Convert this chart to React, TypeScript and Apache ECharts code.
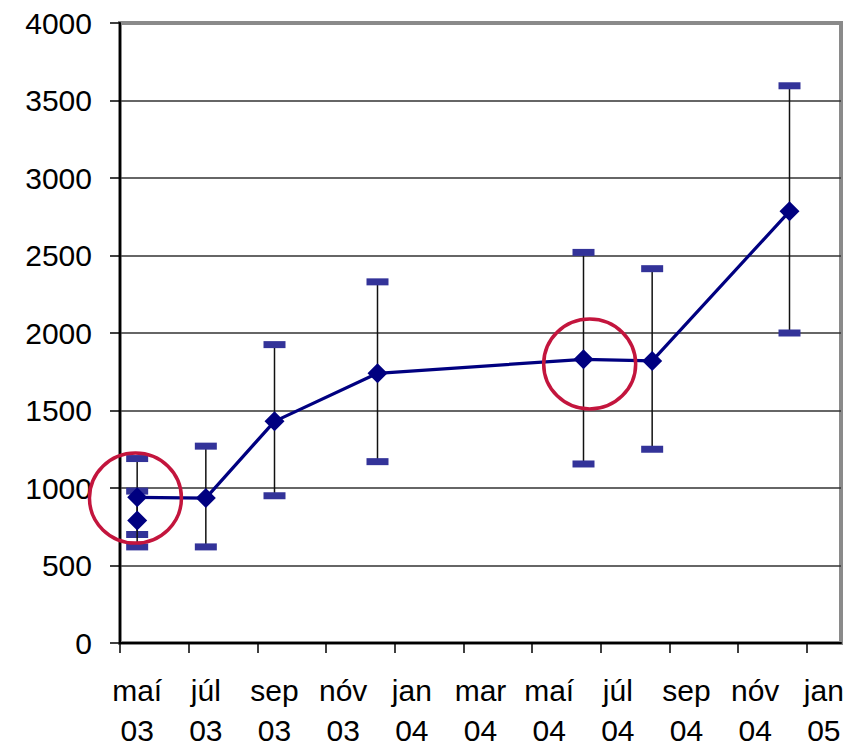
import React, { useEffect, useRef } from "react";
import * as echarts from "echarts";

// Month labels of the date axis (each label spans two months)
const monthLabels = ["maí", "júl", "sep", "nóv", "jan", "mar", "maí", "júl", "sep", "nóv", "jan"];
const yearLabels = ["03", "03", "03", "03", "04", "04", "04", "04", "04", "04", "05"];

// Month index from maí 03 (0) for each measurement
const monthIndex = [0, 2, 4, 7, 13, 15, 19];
const values = [940, 935, 1430, 1740, 1830, 1820, 2785];
const lows = [700, 620, 950, 1170, 1155, 1250, 2000];
const highs = [1190, 1270, 1925, 2330, 2520, 2415, 3595];

// Extra single measurement at maí 03
const extraMonth = [0];
const extraValue = [790];
const extraLow = [620];
const extraHigh = [980];

// Annotation circles (month position, value)
const circleMonth = [0.45, 13.68];
const circleValue = [935, 1800];

const yTicks = [0, 500, 1000, 1500, 2000, 2500, 3000, 3500, 4000];

const FONT = "'Liberation Sans', Arial, sans-serif";

export default function App() {
  const ref = useRef<HTMLDivElement>(null);

  useEffect(() => {
    if (!ref.current) return;
    const chart = echarts.init(ref.current, null, { renderer: "svg" });

    const lineData = monthIndex.map((m, i) => [m + 0.5, values[i]]);
    const extraData = extraMonth.map((m, i) => [m + 0.5, extraValue[i]]);
    const errData = [
      ...monthIndex.map((m, i) => [m + 0.5, lows[i], highs[i]]),
      ...extraMonth.map((m, i) => [m + 0.5, extraLow[i], extraHigh[i]]),
    ];
    const circleData = circleMonth.map((m, i) => [m, circleValue[i]]);

    const tickValues = monthLabels.map((_, i) => i * 2);
    const labelValues = monthLabels.map((_, i) => i * 2 + 0.5);

    chart.setOption({
      animation: false,
      backgroundColor: "#fff",
      textStyle: { fontFamily: FONT },
      grid: {
        left: 120,
        right: 18,
        top: 23,
        bottom: 104,
        show: true,
        borderColor: "#8a8a8a",
        borderWidth: 4,
        backgroundColor: "transparent",
        outerBoundsMode: "none",
        containLabel: false,
      },
      xAxis: {
        type: "value",
        min: 0,
        max: 21,
        interval: 2,
        splitLine: { show: false },
        axisLine: { show: true, onZero: false, lineStyle: { color: "#000", width: 2 } },
        axisTick: {
          show: true,
          inside: false,
          length: 10,
          customValues: tickValues,
          lineStyle: { color: "#000", width: 1.5 },
        },
        axisLabel: {
          customValues: labelValues,
          margin: 27,
          color: "#000",
          fontSize: 30,
          fontFamily: FONT,
          lineHeight: 40,
          hideOverlap: false,
          formatter: (v: number) => {
            const i = Math.round((v - 0.5) / 2);
            if (i < 0 || i >= monthLabels.length) return "";
            return monthLabels[i] + "\n" + yearLabels[i];
          },
        },
      },
      yAxis: {
        type: "value",
        min: 0,
        max: 4000,
        interval: 500,
        axisLine: { show: true, lineStyle: { color: "#000", width: 2 } },
        axisTick: { show: true, inside: false, length: 10, lineStyle: { color: "#000", width: 1.5 } },
        axisLabel: {
          margin: 28,
          color: "#000",
          fontSize: 30,
          fontFamily: FONT,
          formatter: (v: number) => (yTicks.indexOf(v) >= 0 ? String(v) : ""),
        },
        splitLine: {
          show: true,
          showMinLine: false,
          showMaxLine: false,
          lineStyle: { color: "#333", width: 1.5 },
        },
      },
      series: [
        {
          type: "custom",
          name: "errors",
          z: 1,
          clip: false,
          encode: { x: 0, y: [1, 2] },
          data: errData,
          renderItem: (params: any, api: any) => {
            const x = api.value(0);
            const lo = api.coord([x, api.value(1)]);
            const hi = api.coord([x, api.value(2)]);
            const cw = 22;
            const ch = 7;
            return {
              type: "group",
              children: [
                {
                  type: "line",
                  shape: { x1: lo[0], y1: lo[1], x2: hi[0], y2: hi[1] },
                  style: { stroke: "#111", lineWidth: 1.5 },
                },
                {
                  type: "rect",
                  shape: { x: hi[0] - cw / 2, y: hi[1] - ch / 2, width: cw, height: ch },
                  style: { fill: "#333399" },
                },
                {
                  type: "rect",
                  shape: { x: lo[0] - cw / 2, y: lo[1] - ch / 2, width: cw, height: ch },
                  style: { fill: "#333399" },
                },
              ],
            };
          },
        },
        {
          type: "line",
          name: "main",
          z: 2,
          data: lineData,
          symbol: "diamond",
          symbolSize: 20,
          showAllSymbol: true,
          lineStyle: { color: "#000080", width: 3.2 },
          itemStyle: { color: "#000080", opacity: 1 },
        },
        {
          type: "scatter",
          name: "extra",
          z: 2,
          data: extraData,
          symbol: "diamond",
          symbolSize: 20,
          itemStyle: { color: "#000080", opacity: 1 },
        },
        {
          type: "custom",
          name: "circles",
          z: 5,
          clip: false,
          encode: { x: 0, y: 1 },
          data: circleData,
          renderItem: (params: any, api: any) => {
            const c = api.coord([api.value(0), api.value(1)]);
            return {
              type: "ellipse",
              shape: { cx: c[0], cy: c[1], rx: 46, ry: 45 },
              style: { fill: "none", stroke: "#C3153D", lineWidth: 3.5 },
            };
          },
        },
      ],
    });

    return () => chart.dispose();
  }, []);

  return (
    <div
      ref={ref}
      style={{ position: "fixed", left: 0, top: 0, width: 859, height: 747 }}
    />
  );
}
